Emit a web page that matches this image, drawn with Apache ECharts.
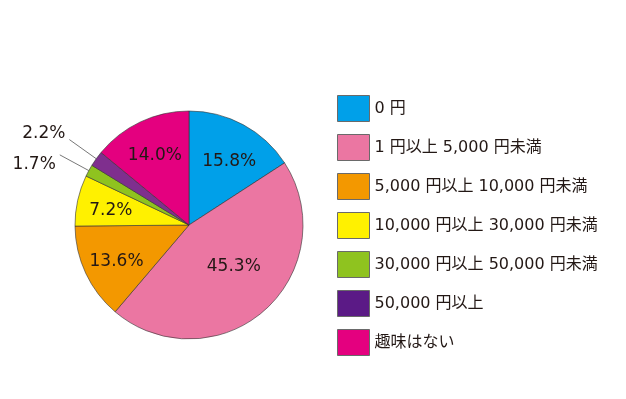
<!DOCTYPE html>
<html>
<head>
<meta charset="utf-8">
<script src="https://cdn.jsdelivr.net/npm/echarts@6/dist/echarts.min.js"></script>
<style>
  html, body { margin: 0; padding: 0; background: #fff; }
  #chart { width: 626px; height: 399px; }
</style>
</head>
<body>
<div id="chart"></div>
<script>
const categories = [
  "0 円",
  "1 円以上 5,000 円未満",
  "5,000 円以上 10,000 円未満",
  "10,000 円以上 30,000 円未満",
  "30,000 円以上 50,000 円未満",
  "50,000 円以上",
  "趣味はない"
];
const shares = [15.8, 45.3, 13.6, 7.2, 1.7, 2.2, 14.0];
const colors = ["#00a0e9", "#eb76a2", "#f39800", "#fff100", "#8fc31f", "#7f2f8e", "#e4007f"];

const chart = echarts.init(document.getElementById("chart"));
const font = '"DejaVu Sans", "Noto Sans CJK JP", sans-serif';

// small slices get an outside label with a straight leader line
const pieData = categories.map((name, i) => {
  const item = { name: name, value: shares[i], itemStyle: { color: colors[i] } };
  if (shares[i] < 3) {
    item.label = { show: true, position: "outside", distanceToLabelLine: 2 };
    item.labelLine = { show: true, length: 33, length2: 0 };
  }
  return item;
});

// transparent ring on top, only to put the inner labels further out
const labelData = categories.map((name, i) => {
  const item = { name: name, value: shares[i] };
  if (shares[i] < 3) item.label = { show: false };
  if (i === 0) item.label = { offset: [2, 7] };
  if (i === 1) item.label = { offset: [-8, -19] };
  return item;
});

const option = {
  animation: false,
  color: colors,
  legend: {
    orient: "vertical",
    left: 332,
    top: 90,
    itemWidth: 32,
    itemHeight: 26,
    itemGap: 12,
    icon: "rect",
    selectedMode: false,
    data: categories.map((name, i) => ({
      name: name,
      itemStyle: { color: i === 5 ? "#5b1a86" : colors[i], borderColor: "#6a6a6a", borderWidth: 1 }
    })),
    textStyle: { fontFamily: font, fontSize: 16, color: "#231815" }
  },
  series: [
    {
      type: "pie",
      center: [189, 225],
      radius: 114,
      startAngle: 90,
      clockwise: true,
      avoidLabelOverlap: false,
      silent: true,
      data: pieData,
      itemStyle: { borderColor: "#333", borderWidth: 0.6 },
      label: {
        show: false,
        formatter: function (p) { return p.value.toFixed(1) + "%"; },
        fontFamily: font,
        fontSize: 17,
        color: "#231815"
      },
      labelLine: { lineStyle: { color: "#555", width: 0.8 } },
      labelLayout: function (p) {
        // lift the 2.2% label, drop the 1.7% one a bit
        return { dy: p.dataIndex === 5 ? -6 : 10, dx: -2, hideOverlap: false };
      }
    },
    {
      type: "pie",
      center: [189, 225],
      radius: [40, 114],
      startAngle: 90,
      clockwise: true,
      silent: true,
      data: labelData,
      itemStyle: { color: "rgba(0,0,0,0)", borderWidth: 0 },
      label: {
        show: true,
        position: "inside",
        offset: [0, 3],
        formatter: function (p) { return p.value.toFixed(1) + "%"; },
        fontFamily: font,
        fontSize: 17,
        color: "#231815"
      },
      labelLine: { show: false }
    }
  ]
};

chart.setOption(option);
</script>
</body>
</html>
